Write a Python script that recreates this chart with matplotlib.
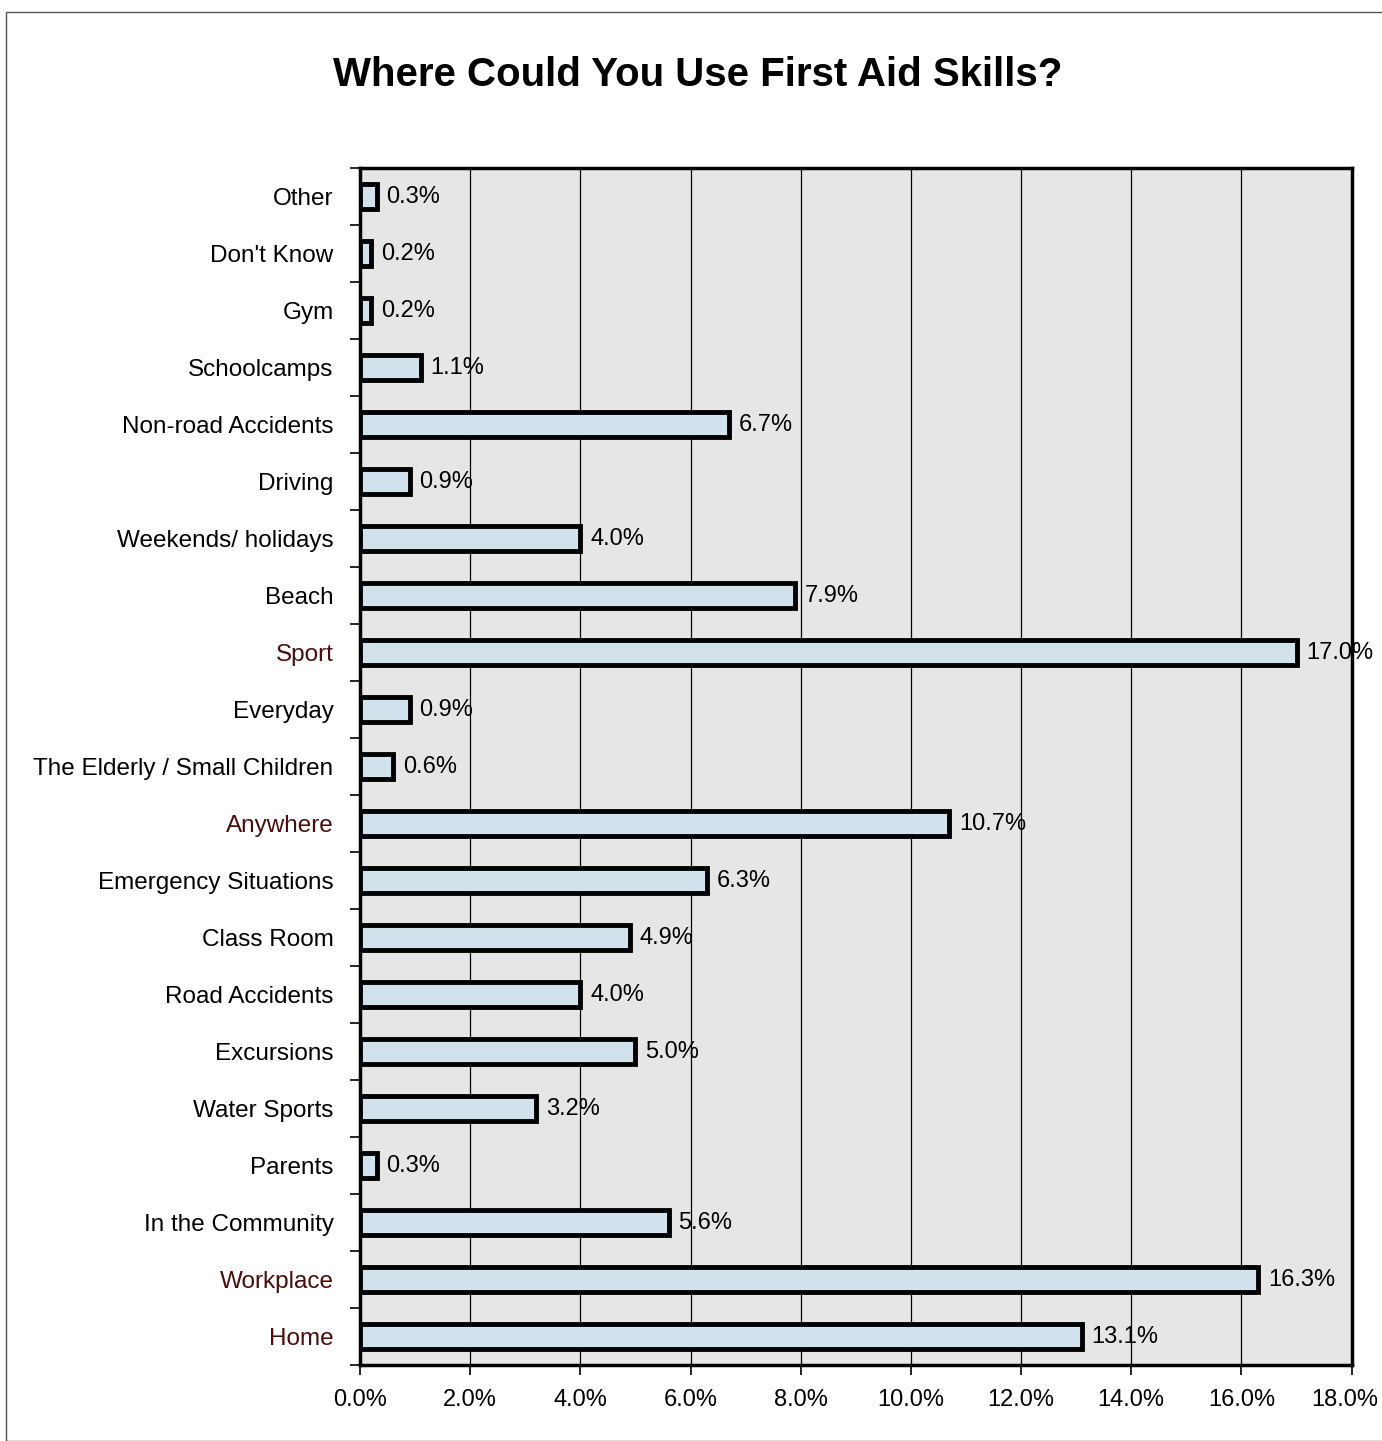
import numpy as np
import matplotlib.pyplot as plt
from matplotlib.patches import Rectangle
from matplotlib.transforms import ScaledTranslation

plt.rcParams['font.family'] = ['Liberation Sans', 'DejaVu Sans']

# Data (bottom to top as drawn)
categories = ['Home', 'Workplace', 'In the Community', 'Parents', 'Water Sports',
              'Excursions', 'Road Accidents', 'Class Room', 'Emergency Situations',
              'Anywhere', 'The Elderly / Small Children', 'Everyday', 'Sport',
              'Beach', 'Weekends/ holidays', 'Driving', 'Non-road Accidents',
              'Schoolcamps', 'Gym', "Don't Know", 'Other']
values = [13.1, 16.3, 5.6, 0.3, 3.2, 5.0, 4.0, 4.9, 6.3, 10.7, 0.6, 0.9, 17.0,
          7.9, 4.0, 0.9, 6.7, 1.1, 0.2, 0.2, 0.3]
red_labels = ['Home', 'Workplace', 'Sport', 'Anywhere']
x_ticks = np.arange(0, 18.1, 2)

fig = plt.figure(figsize=(13.82, 14.41), dpi=100)
ax = fig.add_axes([0.2605, 0.0527, 0.7175, 0.8307])

# frame around the whole sheet
fig.patches.append(Rectangle((0.004, 0.0), 1.2, 0.9915, transform=fig.transFigure,
                             fill=False, lw=1.0, ec='#555555'))

y = np.arange(len(categories))
ax.set_facecolor('#e6e6e6')
ax.barh(y, values, height=0.45, color='#d2e2ec', edgecolor='black', linewidth=3.5, zorder=3)

for yi, v in zip(y, values):
    ax.text(v + 0.18, yi, f'{v:.1f}%', va='center', ha='left', fontsize=17, zorder=4)

ax.set_xlim(0, 18)
ax.set_ylim(-0.5, len(categories) - 0.5)
ax.set_xticks(x_ticks)
ax.set_xticklabels([f'{t:.1f}%' for t in x_ticks], fontsize=17)
ax.tick_params(axis='x', direction='out', length=7, width=1.2, pad=10)
# keep the last label inside the sheet
last = ax.get_xticklabels()[-1]
last.set_transform(last.get_transform() + ScaledTranslation(-5 / 72, 0, fig.dpi_scale_trans))

ax.set_yticks(y)
ax.set_yticklabels(categories, fontsize=17.5)
ax.tick_params(axis='y', length=0, pad=19)
for lbl in ax.get_yticklabels():
    if lbl.get_text() in red_labels:
        lbl.set_color('#4a0c0c')
# minor ticks between categories (Excel style)
ax.set_yticks(np.arange(-0.5, len(categories), 1), minor=True)
ax.tick_params(axis='y', which='minor', direction='out', length=7, width=1.2)

ax.grid(axis='x', color='black', linewidth=0.9, zorder=1)
ax.set_axisbelow(True)
for s in ax.spines.values():
    s.set_linewidth(2.5)

fig.text(0.505, 0.948, 'Where Could You Use First Aid Skills?', ha='center', va='center',
         fontsize=29, fontweight='bold')

fig.savefig('out.png', dpi=100)
